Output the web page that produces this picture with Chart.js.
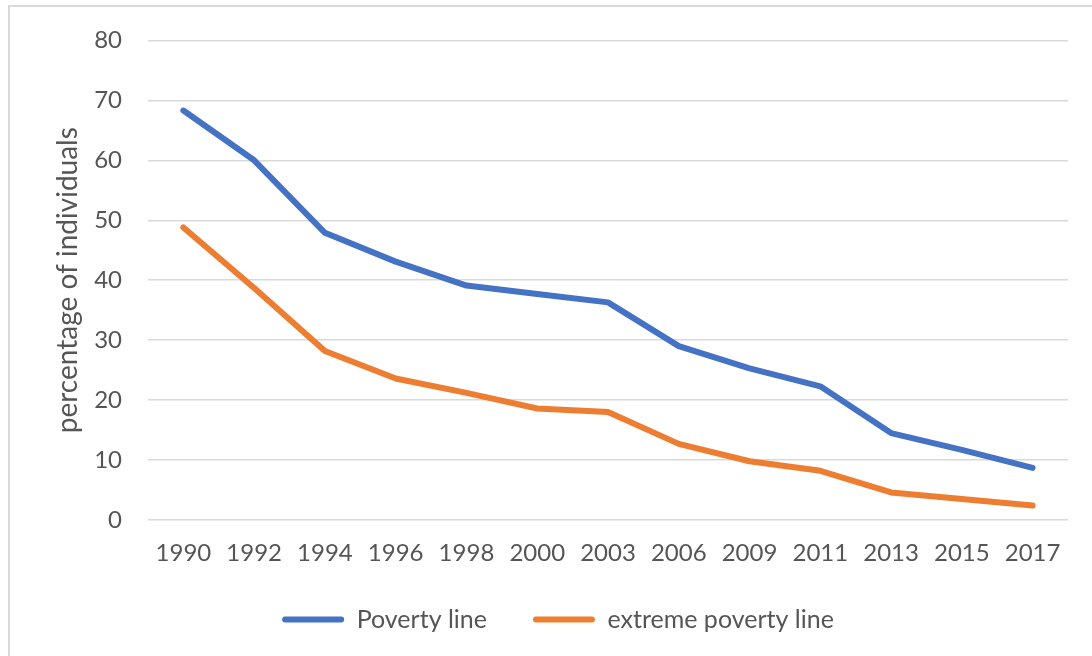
<!DOCTYPE html>
<html>
<head>
<meta charset="utf-8">
<script src="https://cdn.jsdelivr.net/npm/chart.js@4"></script>
<style>
    body { margin: 0; background: #fff; }
    #wrap { position: relative; width: 1092px; height: 656px; }
    #frame {
        position: absolute; left: 8px; top: 5px; right: 0; bottom: 0;
        border-top: 2px solid #d9d9d9; border-left: 2px solid #d9d9d9;
        pointer-events: none;
    }
    canvas { position: absolute; left: 0; top: 0; }
</style>
</head>
<body>
<div id="wrap">
    <canvas id="chart" width="1092" height="656"></canvas>
    <div id="frame"></div>
</div>
<script>
// Values
const years = ['1990', '1992', '1994', '1996', '1998', '2000', '2003', '2006', '2009', '2011', '2013', '2015', '2017'];
const povertyLine = [68.3, 60.0, 47.9, 43.1, 39.1, 37.7, 36.3, 29.0, 25.3, 22.3, 14.5, 11.7, 8.7];
const extremePovertyLine = [48.8, 38.7, 28.2, 23.6, 21.2, 18.6, 18.0, 12.7, 9.8, 8.2, 4.6, 3.5, 2.4];
const yTicks = [0, 10, 20, 30, 40, 50, 60, 70, 80];

const textColor = '#555555';
const gridColor = '#d9d9d9';
const fontFamily = 'Lato, "Open Sans", sans-serif';

function lineSeries(label, data, color) {
    return {
        label: label,
        data: data,
        borderColor: color,
        backgroundColor: color,
        borderWidth: 6,
        borderCapStyle: 'round',
        borderJoinStyle: 'round',
        pointRadius: 0,
        tension: 0
    };
}

new Chart(document.getElementById('chart'), {
    type: 'line',
    data: {
        labels: years,
        datasets: [
            lineSeries('Poverty line', povertyLine, '#4472c4'),
            lineSeries('extreme poverty line', extremePovertyLine, '#ed7d31')
        ]
    },
    options: {
        responsive: false,
        animation: false,
        // left padding keeps the legend centred where the reference has it
        layout: { padding: { left: 48, right: 24, top: 28, bottom: 14 } },
        plugins: {
            tooltip: { enabled: false },
            legend: {
                position: 'bottom',
                labels: {
                    color: textColor,
                    font: { family: fontFamily, size: 25 },
                    boxWidth: 62,
                    boxHeight: 6,
                    padding: 46,
                    useBorderRadius: true,
                    generateLabels(chart) {
                        return chart.data.datasets.map((ds, i) => ({
                            text: ds.label,
                            fillStyle: ds.borderColor,
                            strokeStyle: ds.borderColor,
                            lineWidth: 0,
                            borderRadius: 3,
                            fontColor: textColor,
                            datasetIndex: i,
                            hidden: false
                        }));
                    }
                }
            }
        },
        scales: {
            x: {
                offset: true,
                grid: { display: false },
                border: { display: false },
                ticks: {
                    color: textColor,
                    font: { family: fontFamily, size: 24 },
                    maxRotation: 0,
                    autoSkip: false,
                    padding: 11
                },
                // just tall enough for the labels (they are clipped to this box)
                afterFit(scale) { scale.height = 41; }
            },
            y: {
                min: 0,
                max: 80,
                afterBuildTicks(scale) { scale.ticks = yTicks.map(v => ({ value: v })); },
                grid: { color: gridColor, lineWidth: 1.5, drawTicks: false },
                border: { display: false },
                ticks: {
                    color: textColor,
                    font: { family: fontFamily, size: 24 },
                    padding: 26
                },
                title: {
                    display: true,
                    text: 'percentage of individuals',
                    color: textColor,
                    font: { family: fontFamily, size: 28 },
                    padding: { top: 3, bottom: 0 }
                },
                afterFit(scale) { scale.width = 100; }
            }
        }
    }
});
</script>
</body>
</html>
